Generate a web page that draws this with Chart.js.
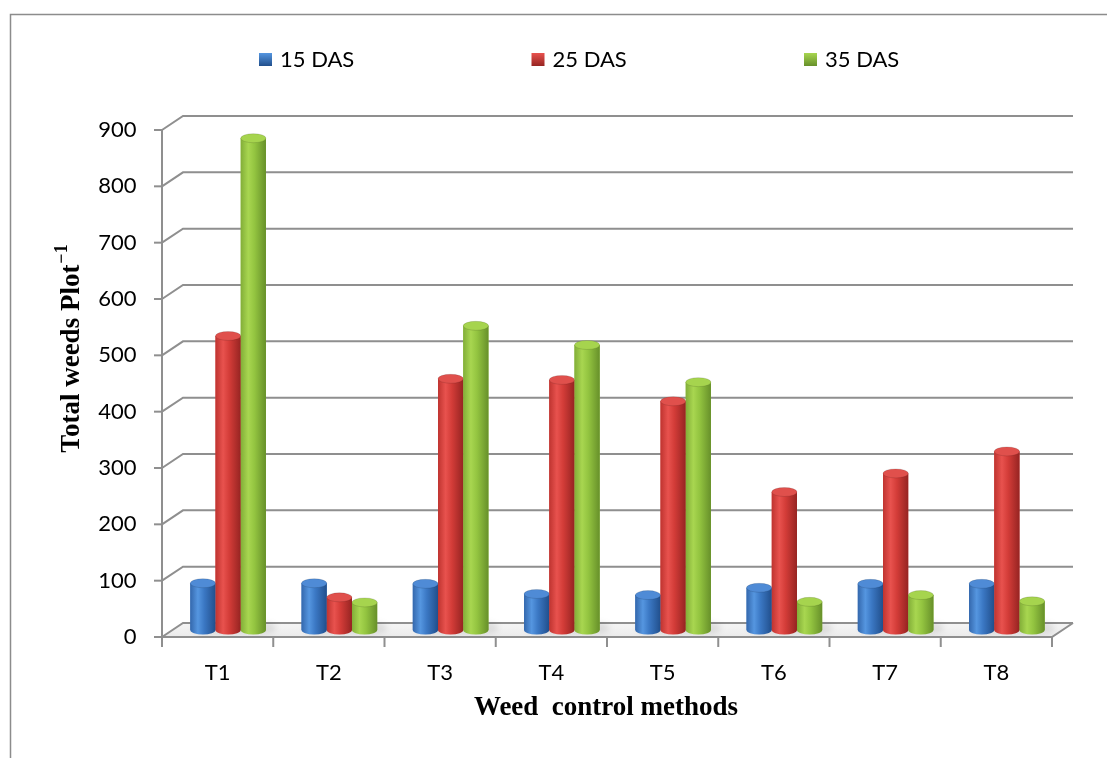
<!DOCTYPE html>
<html>
<head>
<meta charset="utf-8">
<script src="https://cdn.jsdelivr.net/npm/chart.js@4.4.0/dist/chart.umd.min.js"></script>
<style>
  html, body { margin: 0; padding: 0; background: #fff; }
  #wrap { width: 1107px; height: 758px; position: relative; }
</style>
</head>
<body>
<div id="wrap"><canvas id="weedChart" width="1107" height="758"></canvas></div>
<script>
// data
const treatments = ['T1', 'T2', 'T3', 'T4', 'T5', 'T6', 'T7', 'T8'];
const seriesNames = ['15 DAS', '25 DAS', '35 DAS'];
const das15 = [83, 83, 82, 64, 62, 75, 82, 82];
const das25 = [522, 58, 446, 444, 406, 245, 278, 317];
const das35 = [873, 49, 540, 506, 440, 50, 62, 51];
const yTicks = [0, 100, 200, 300, 400, 500, 600, 700, 800, 900];

// cylinder shading per series
const palette = [
    { base: '#3b78c4', edge: '#3468ad', light: '#5596e0', dark: '#214f8c', top: '#4f8bd6' },
    { base: '#d33c38', edge: '#bf3430', light: '#e8524e', dark: '#962422', top: '#e0504c' },
    { base: '#93c440', edge: '#82ae38', light: '#a8d650', dark: '#67902a', top: '#a6d44e' }
];

const DX = 10.5, DY = 7;       // half depth of the fake 3d box
const gridColor = '#8f8f8f';

function line(ctx, pts) {
    ctx.beginPath();
    ctx.moveTo(pts[0][0], pts[0][1]);
    for (let i = 1; i < pts.length; i++) ctx.lineTo(pts[i][0], pts[i][1]);
    ctx.stroke();
}

const box3d = {
    id: 'box3d',
    beforeDatasetsDraw(chart) {
        const { ctx, chartArea: a, scales: { x, y } } = chart;
        const y0 = y.getPixelForValue(0);
        const yTop = y.getPixelForValue(yTicks[yTicks.length - 1]);
        ctx.save();

        // floor
        const floor = ctx.createLinearGradient(0, y0 - DY, 0, y0 + DY);
        floor.addColorStop(0, '#f5f5f5');
        floor.addColorStop(1, '#ebebeb');
        ctx.fillStyle = floor;
        ctx.beginPath();
        ctx.moveTo(a.left - DX, y0 + DY);
        ctx.lineTo(a.right - DX, y0 + DY);
        ctx.lineTo(a.right + DX, y0 - DY);
        ctx.lineTo(a.left + DX, y0 - DY);
        ctx.closePath();
        ctx.fill();

        ctx.strokeStyle = gridColor;
        ctx.lineWidth = 2;
        // back wall gridlines + side diagonals + tick marks
        y.ticks.forEach(t => {
            const py = y.getPixelForValue(t.value);
            line(ctx, [[a.left - DX, py + DY], [a.left + DX, py - DY], [a.right + DX, py - DY]]);
            line(ctx, [[a.left - DX - 8, py + DY], [a.left - DX, py + DY]]);
        });
        // front axes
        line(ctx, [[a.left - DX, yTop + DY], [a.left - DX, y0 + DY], [a.right - DX, y0 + DY], [a.right + DX, y0 - DY]]);
        // category ticks
        for (let k = 0; k <= treatments.length; k++) {
            const px = x.getPixelForValue(k - 0.5) - DX;
            line(ctx, [[px, y0 + DY], [px, y0 + DY + 10]]);
        }
        ctx.restore();
    },
    afterDatasetsDraw(chart) {
        const { ctx } = chart;
        ctx.save();
        chart.data.datasets.forEach((ds, di) => {
            const pal = palette[di];
            chart.getDatasetMeta(di).data.forEach(el => {
                const { x: cx, y: top, base, width } = el.getProps(['x', 'y', 'base', 'width'], true);
                const l = cx - width / 2, r = cx + width / 2, rx = width / 2, ry = 4.5;

                // soft shadow on the floor
                ctx.save();
                ctx.fillStyle = 'rgba(0,0,0,0.10)';
                ctx.filter = 'blur(3px)';
                ctx.beginPath();
                ctx.ellipse(cx + 6, base - 2, rx + 4, ry + 1, 0, 0, Math.PI * 2);
                ctx.fill();
                ctx.restore();

                const g = ctx.createLinearGradient(l, 0, r, 0);
                g.addColorStop(0, pal.edge);
                g.addColorStop(0.3, pal.light);
                g.addColorStop(0.55, pal.base);
                g.addColorStop(1, pal.dark);
                ctx.fillStyle = g;
                ctx.beginPath();
                ctx.moveTo(l, top);
                ctx.lineTo(l, base);
                ctx.ellipse(cx, base, rx, ry, 0, Math.PI, 0, true);
                ctx.lineTo(r, top);
                ctx.closePath();
                ctx.fill();

                ctx.fillStyle = pal.top;
                ctx.beginPath();
                ctx.ellipse(cx, top, rx, ry, 0, 0, Math.PI * 2);
                ctx.fill();
                ctx.strokeStyle = 'rgba(0,0,0,0.12)';
                ctx.lineWidth = 1;
                ctx.stroke();
            });
        });
        ctx.restore();
    },
    afterDraw(chart) {
        const { ctx } = chart;
        ctx.save();

        // outer frame
        ctx.strokeStyle = '#8c8c8c';
        ctx.lineWidth = 1.5;
        ctx.strokeRect(10.5, 14.5, 1300, 900);

        // legend
        ctx.font = '22px Lato, "Open Sans", sans-serif';
        ctx.textBaseline = 'middle';
        ctx.textAlign = 'left';
        chart.data.datasets.forEach((ds, di) => {
            const pal = palette[di];
            const bx = 259 + di * 272.5, by = 53;
            const g = ctx.createLinearGradient(0, by, 0, by + 13);
            g.addColorStop(0, pal.light);
            g.addColorStop(1, pal.dark);
            ctx.fillStyle = g;
            ctx.fillRect(bx, by, 13, 13);
            ctx.fillStyle = '#000';
            ctx.fillText(ds.label, bx + 21, 60);
        });

        // x title
        ctx.font = 'bold 27px "Liberation Serif", "Times New Roman", serif';
        ctx.textAlign = 'center';
        ctx.fillText('Weed  control methods', 606, 708);

        // y title with superscript
        ctx.translate(70, 349);
        ctx.rotate(-Math.PI / 2);
        const mainFont = 'bold 27px "Liberation Serif", "Times New Roman", serif';
        const supFont = 'bold 18px "Liberation Serif", "Times New Roman", serif';
        const mainText = 'Total weeds Plot';
        const supText = '\u22121';
        ctx.font = mainFont;
        const w1 = ctx.measureText(mainText).width;
        ctx.font = supFont;
        const w2 = ctx.measureText(supText).width;
        const start = -(w1 + w2) / 2;
        ctx.textAlign = 'left';
        ctx.textBaseline = 'alphabetic';
        ctx.font = mainFont;
        ctx.fillText(mainText, start, 9);
        ctx.font = supFont;
        ctx.fillText(supText, start + w1 + 1, -3);
        ctx.restore();
    }
};

const tickFont = { family: 'Lato, "Open Sans", sans-serif', size: 22 };

new Chart(document.getElementById('weedChart'), {
    type: 'bar',
    data: {
        labels: treatments,
        datasets: [
            { label: seriesNames[0], data: das15, backgroundColor: palette[0].base },
            { label: seriesNames[1], data: das25, backgroundColor: palette[1].base },
            { label: seriesNames[2], data: das35, backgroundColor: palette[2].base }
        ]
    },
    options: {
        responsive: false,
        animation: false,
        categoryPercentage: 0.68,
        barPercentage: 1.0,
        layout: { padding: { left: 0, top: 123, right: 44.5, bottom: 0 } },
        plugins: { legend: { display: false }, tooltip: { enabled: false } },
        scales: {
            x: {
                grid: { display: false, drawTicks: false },
                border: { display: false },
                ticks: { font: tickFont, color: '#000', padding: 30, labelOffset: -10.5 },
                afterFit: s => { s.height = 128; }
            },
            y: {
                min: 0,
                max: 900,
                grid: { display: false, drawTicks: false },
                border: { display: false },
                afterBuildTicks: s => { s.ticks = yTicks.map(v => ({ value: v })); },
                ticks: { font: tickFont, color: '#000', padding: 36, labelOffset: 7 },
                afterFit: s => { s.width = 172.5; }
            }
        }
    },
    plugins: [box3d]
});
</script>
</body>
</html>
